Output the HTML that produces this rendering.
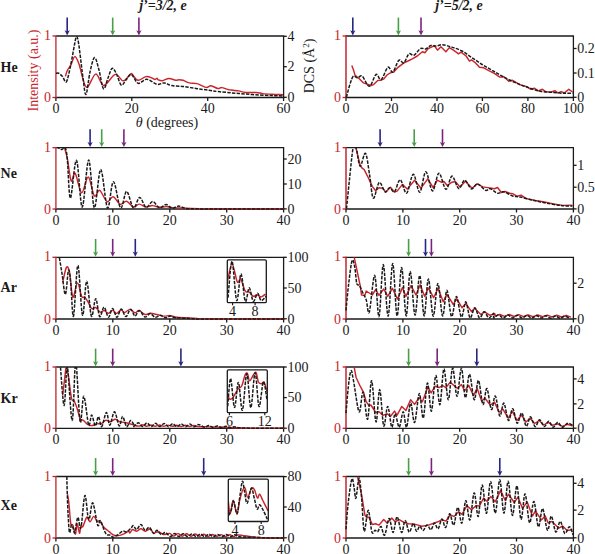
<!DOCTYPE html>
<html><head><meta charset="utf-8"><title>figure</title>
<style>html,body{margin:0;padding:0;background:#fff;width:595px;height:554px;overflow:hidden}svg{display:block;font-family:"Liberation Serif",serif}</style>
</head><body>
<svg width="595" height="554" viewBox="0 0 595 554" font-family='"Liberation Serif", serif'>
<rect width="595" height="554" fill="#fff"/>
<defs>
<clipPath id="cl0"><rect x="54.9" y="36" width="228.7" height="62.5"/></clipPath>
<clipPath id="cr0"><rect x="345" y="36" width="228.4" height="62.5"/></clipPath>
<clipPath id="cl1"><rect x="54.9" y="147.7" width="228.7" height="62.3"/></clipPath>
<clipPath id="cr1"><rect x="345" y="147.7" width="228.4" height="62.3"/></clipPath>
<clipPath id="cl2"><rect x="54.9" y="257.3" width="228.7" height="62.7"/></clipPath>
<clipPath id="cr2"><rect x="345" y="257.3" width="228.4" height="62.7"/></clipPath>
<clipPath id="cl3"><rect x="54.9" y="367" width="228.7" height="62.3"/></clipPath>
<clipPath id="cr3"><rect x="345" y="367" width="228.4" height="62.3"/></clipPath>
<clipPath id="cl4"><rect x="54.9" y="476.5" width="228.7" height="62.5"/></clipPath>
<clipPath id="cr4"><rect x="345" y="476.5" width="228.4" height="62.5"/></clipPath>
</defs>
<text x="139.2" y="9.8" text-anchor="start" fill="#1a1a1a" font-size="14" font-weight="bold" font-style="italic">j’=3/2, e</text>
<text x="435.2" y="9.8" text-anchor="start" fill="#1a1a1a" font-size="14" font-weight="bold" font-style="italic">j’=5/2, e</text>
<text x="0.6" y="72" text-anchor="start" fill="#1a1a1a" font-size="14" font-weight="bold" font-style="normal">He</text>
<text x="0.6" y="177.6" text-anchor="start" fill="#1a1a1a" font-size="14" font-weight="bold" font-style="normal">Ne</text>
<text x="0.6" y="292.2" text-anchor="start" fill="#1a1a1a" font-size="14" font-weight="bold" font-style="normal">Ar</text>
<text x="0.6" y="402.7" text-anchor="start" fill="#1a1a1a" font-size="14" font-weight="bold" font-style="normal">Kr</text>
<text x="0.6" y="509.7" text-anchor="start" fill="#1a1a1a" font-size="14" font-weight="bold" font-style="normal">Xe</text>
<g stroke-width="1.3" fill="none">
<line x1="55.9" y1="36" x2="284.2" y2="36" stroke="#1a1a1a"/>
<line x1="55.9" y1="97.5" x2="284.2" y2="97.5" stroke="#1a1a1a"/>
<line x1="283.6" y1="36" x2="283.6" y2="97.5" stroke="#1a1a1a"/>
<line x1="55.9" y1="35.4" x2="55.9" y2="98.1" stroke="#c63a40" stroke-width="1.45"/>
<line x1="52.5" y1="36" x2="55.9" y2="36" stroke="#c01e24"/>
<line x1="52.5" y1="97.5" x2="55.9" y2="97.5" stroke="#c01e24"/>
<line x1="55.9" y1="97.5" x2="55.9" y2="101" stroke="#1a1a1a"/>
<line x1="131.8" y1="97.5" x2="131.8" y2="101" stroke="#1a1a1a"/>
<line x1="207.7" y1="97.5" x2="207.7" y2="101" stroke="#1a1a1a"/>
<line x1="283.6" y1="97.5" x2="283.6" y2="101" stroke="#1a1a1a"/>
<line x1="283.6" y1="97.3" x2="286.8" y2="97.3" stroke="#1a1a1a"/>
<line x1="283.6" y1="66.7" x2="286.8" y2="66.7" stroke="#1a1a1a"/>
<line x1="283.6" y1="36.3" x2="286.8" y2="36.3" stroke="#1a1a1a"/>
</g>
<text x="50.9" y="40" text-anchor="end" fill="#c8262c" font-size="14" font-weight="normal" font-style="normal">1</text>
<text x="50.9" y="102.1" text-anchor="end" fill="#c8262c" font-size="14" font-weight="normal" font-style="normal">0</text>
<text x="55.9" y="113.3" text-anchor="middle" fill="#1a1a1a" font-size="14" font-weight="normal" font-style="normal">0</text>
<text x="131.8" y="113.3" text-anchor="middle" fill="#1a1a1a" font-size="14" font-weight="normal" font-style="normal">20</text>
<text x="207.7" y="113.3" text-anchor="middle" fill="#1a1a1a" font-size="14" font-weight="normal" font-style="normal">40</text>
<text x="283.6" y="113.3" text-anchor="middle" fill="#1a1a1a" font-size="14" font-weight="normal" font-style="normal">60</text>
<text x="287.4" y="102" text-anchor="start" fill="#1a1a1a" font-size="14" font-weight="normal" font-style="normal">0</text>
<text x="287.4" y="71.4" text-anchor="start" fill="#1a1a1a" font-size="14" font-weight="normal" font-style="normal">2</text>
<text x="287.4" y="41" text-anchor="start" fill="#1a1a1a" font-size="14" font-weight="normal" font-style="normal">4</text>
<g stroke-width="1.3" fill="none">
<line x1="346" y1="36" x2="574" y2="36" stroke="#1a1a1a"/>
<line x1="346" y1="97.5" x2="574" y2="97.5" stroke="#1a1a1a"/>
<line x1="573.4" y1="36" x2="573.4" y2="97.5" stroke="#1a1a1a"/>
<line x1="346" y1="35.4" x2="346" y2="98.1" stroke="#c01e24" stroke-width="1.45"/>
<line x1="342.6" y1="36" x2="346" y2="36" stroke="#c01e24"/>
<line x1="342.6" y1="97.5" x2="346" y2="97.5" stroke="#c01e24"/>
<line x1="346" y1="97.5" x2="346" y2="101" stroke="#1a1a1a"/>
<line x1="391.5" y1="97.5" x2="391.5" y2="101" stroke="#1a1a1a"/>
<line x1="437" y1="97.5" x2="437" y2="101" stroke="#1a1a1a"/>
<line x1="482.4" y1="97.5" x2="482.4" y2="101" stroke="#1a1a1a"/>
<line x1="527.9" y1="97.5" x2="527.9" y2="101" stroke="#1a1a1a"/>
<line x1="573.4" y1="97.5" x2="573.4" y2="101" stroke="#1a1a1a"/>
<line x1="573.4" y1="97.3" x2="576.6" y2="97.3" stroke="#1a1a1a"/>
<line x1="573.4" y1="73" x2="576.6" y2="73" stroke="#1a1a1a"/>
<line x1="573.4" y1="48.5" x2="576.6" y2="48.5" stroke="#1a1a1a"/>
</g>
<text x="341" y="40" text-anchor="end" fill="#c8262c" font-size="14" font-weight="normal" font-style="normal">1</text>
<text x="341" y="102.1" text-anchor="end" fill="#c8262c" font-size="14" font-weight="normal" font-style="normal">0</text>
<text x="346" y="113.3" text-anchor="middle" fill="#1a1a1a" font-size="14" font-weight="normal" font-style="normal">0</text>
<text x="391.5" y="113.3" text-anchor="middle" fill="#1a1a1a" font-size="14" font-weight="normal" font-style="normal">20</text>
<text x="437" y="113.3" text-anchor="middle" fill="#1a1a1a" font-size="14" font-weight="normal" font-style="normal">40</text>
<text x="482.4" y="113.3" text-anchor="middle" fill="#1a1a1a" font-size="14" font-weight="normal" font-style="normal">60</text>
<text x="527.9" y="113.3" text-anchor="middle" fill="#1a1a1a" font-size="14" font-weight="normal" font-style="normal">80</text>
<text x="573.4" y="113.3" text-anchor="middle" fill="#1a1a1a" font-size="14" font-weight="normal" font-style="normal">100</text>
<text x="577.2" y="102" text-anchor="start" fill="#1a1a1a" font-size="14" font-weight="normal" font-style="normal">0</text>
<text x="577.2" y="77.7" text-anchor="start" fill="#1a1a1a" font-size="14" font-weight="normal" font-style="normal">0.1</text>
<text x="577.2" y="53.2" text-anchor="start" fill="#1a1a1a" font-size="14" font-weight="normal" font-style="normal">0.2</text>
<g stroke-width="1.3" fill="none">
<line x1="55.9" y1="147.7" x2="284.2" y2="147.7" stroke="#1a1a1a"/>
<line x1="55.9" y1="209" x2="284.2" y2="209" stroke="#1a1a1a"/>
<line x1="283.6" y1="147.7" x2="283.6" y2="209" stroke="#1a1a1a"/>
<line x1="55.9" y1="147.1" x2="55.9" y2="209.6" stroke="#c63a40" stroke-width="1.45"/>
<line x1="52.5" y1="147.7" x2="55.9" y2="147.7" stroke="#c01e24"/>
<line x1="52.5" y1="209" x2="55.9" y2="209" stroke="#c01e24"/>
<line x1="55.9" y1="209" x2="55.9" y2="212.5" stroke="#1a1a1a"/>
<line x1="112.8" y1="209" x2="112.8" y2="212.5" stroke="#1a1a1a"/>
<line x1="169.8" y1="209" x2="169.8" y2="212.5" stroke="#1a1a1a"/>
<line x1="226.7" y1="209" x2="226.7" y2="212.5" stroke="#1a1a1a"/>
<line x1="283.6" y1="209" x2="283.6" y2="212.5" stroke="#1a1a1a"/>
<line x1="283.6" y1="208.9" x2="286.8" y2="208.9" stroke="#1a1a1a"/>
<line x1="283.6" y1="184" x2="286.8" y2="184" stroke="#1a1a1a"/>
<line x1="283.6" y1="159" x2="286.8" y2="159" stroke="#1a1a1a"/>
</g>
<text x="50.9" y="151.7" text-anchor="end" fill="#c8262c" font-size="14" font-weight="normal" font-style="normal">1</text>
<text x="50.9" y="213.6" text-anchor="end" fill="#c8262c" font-size="14" font-weight="normal" font-style="normal">0</text>
<text x="55.9" y="224.8" text-anchor="middle" fill="#1a1a1a" font-size="14" font-weight="normal" font-style="normal">0</text>
<text x="112.8" y="224.8" text-anchor="middle" fill="#1a1a1a" font-size="14" font-weight="normal" font-style="normal">10</text>
<text x="169.8" y="224.8" text-anchor="middle" fill="#1a1a1a" font-size="14" font-weight="normal" font-style="normal">20</text>
<text x="226.7" y="224.8" text-anchor="middle" fill="#1a1a1a" font-size="14" font-weight="normal" font-style="normal">30</text>
<text x="283.6" y="224.8" text-anchor="middle" fill="#1a1a1a" font-size="14" font-weight="normal" font-style="normal">40</text>
<text x="287.4" y="213.6" text-anchor="start" fill="#1a1a1a" font-size="14" font-weight="normal" font-style="normal">0</text>
<text x="287.4" y="188.7" text-anchor="start" fill="#1a1a1a" font-size="14" font-weight="normal" font-style="normal">10</text>
<text x="287.4" y="163.7" text-anchor="start" fill="#1a1a1a" font-size="14" font-weight="normal" font-style="normal">20</text>
<g stroke-width="1.3" fill="none">
<line x1="346" y1="147.7" x2="574" y2="147.7" stroke="#1a1a1a"/>
<line x1="346" y1="209" x2="574" y2="209" stroke="#1a1a1a"/>
<line x1="573.4" y1="147.7" x2="573.4" y2="209" stroke="#1a1a1a"/>
<line x1="346" y1="147.1" x2="346" y2="209.6" stroke="#c01e24" stroke-width="1.45"/>
<line x1="342.6" y1="147.7" x2="346" y2="147.7" stroke="#c01e24"/>
<line x1="342.6" y1="209" x2="346" y2="209" stroke="#c01e24"/>
<line x1="346" y1="209" x2="346" y2="212.5" stroke="#1a1a1a"/>
<line x1="402.9" y1="209" x2="402.9" y2="212.5" stroke="#1a1a1a"/>
<line x1="459.7" y1="209" x2="459.7" y2="212.5" stroke="#1a1a1a"/>
<line x1="516.5" y1="209" x2="516.5" y2="212.5" stroke="#1a1a1a"/>
<line x1="573.4" y1="209" x2="573.4" y2="212.5" stroke="#1a1a1a"/>
<line x1="573.4" y1="208.9" x2="576.6" y2="208.9" stroke="#1a1a1a"/>
<line x1="573.4" y1="187.2" x2="576.6" y2="187.2" stroke="#1a1a1a"/>
<line x1="573.4" y1="165.3" x2="576.6" y2="165.3" stroke="#1a1a1a"/>
</g>
<text x="341" y="151.7" text-anchor="end" fill="#c8262c" font-size="14" font-weight="normal" font-style="normal">1</text>
<text x="341" y="213.6" text-anchor="end" fill="#c8262c" font-size="14" font-weight="normal" font-style="normal">0</text>
<text x="346" y="224.8" text-anchor="middle" fill="#1a1a1a" font-size="14" font-weight="normal" font-style="normal">0</text>
<text x="402.9" y="224.8" text-anchor="middle" fill="#1a1a1a" font-size="14" font-weight="normal" font-style="normal">10</text>
<text x="459.7" y="224.8" text-anchor="middle" fill="#1a1a1a" font-size="14" font-weight="normal" font-style="normal">20</text>
<text x="516.5" y="224.8" text-anchor="middle" fill="#1a1a1a" font-size="14" font-weight="normal" font-style="normal">30</text>
<text x="573.4" y="224.8" text-anchor="middle" fill="#1a1a1a" font-size="14" font-weight="normal" font-style="normal">40</text>
<text x="577.2" y="213.6" text-anchor="start" fill="#1a1a1a" font-size="14" font-weight="normal" font-style="normal">0</text>
<text x="577.2" y="191.9" text-anchor="start" fill="#1a1a1a" font-size="14" font-weight="normal" font-style="normal">0.5</text>
<text x="577.2" y="170" text-anchor="start" fill="#1a1a1a" font-size="14" font-weight="normal" font-style="normal">1</text>
<g stroke-width="1.3" fill="none">
<line x1="55.9" y1="257.3" x2="284.2" y2="257.3" stroke="#1a1a1a"/>
<line x1="55.9" y1="319" x2="284.2" y2="319" stroke="#1a1a1a"/>
<line x1="283.6" y1="257.3" x2="283.6" y2="319" stroke="#1a1a1a"/>
<line x1="55.9" y1="256.7" x2="55.9" y2="319.6" stroke="#c63a40" stroke-width="1.45"/>
<line x1="52.5" y1="257.3" x2="55.9" y2="257.3" stroke="#c01e24"/>
<line x1="52.5" y1="319" x2="55.9" y2="319" stroke="#c01e24"/>
<line x1="55.9" y1="319" x2="55.9" y2="322.5" stroke="#1a1a1a"/>
<line x1="112.8" y1="319" x2="112.8" y2="322.5" stroke="#1a1a1a"/>
<line x1="169.8" y1="319" x2="169.8" y2="322.5" stroke="#1a1a1a"/>
<line x1="226.7" y1="319" x2="226.7" y2="322.5" stroke="#1a1a1a"/>
<line x1="283.6" y1="319" x2="283.6" y2="322.5" stroke="#1a1a1a"/>
<line x1="283.6" y1="318.8" x2="286.8" y2="318.8" stroke="#1a1a1a"/>
<line x1="283.6" y1="288" x2="286.8" y2="288" stroke="#1a1a1a"/>
<line x1="283.6" y1="257.3" x2="286.8" y2="257.3" stroke="#1a1a1a"/>
</g>
<text x="50.9" y="261.3" text-anchor="end" fill="#c8262c" font-size="14" font-weight="normal" font-style="normal">1</text>
<text x="50.9" y="323.6" text-anchor="end" fill="#c8262c" font-size="14" font-weight="normal" font-style="normal">0</text>
<text x="55.9" y="334.8" text-anchor="middle" fill="#1a1a1a" font-size="14" font-weight="normal" font-style="normal">0</text>
<text x="112.8" y="334.8" text-anchor="middle" fill="#1a1a1a" font-size="14" font-weight="normal" font-style="normal">10</text>
<text x="169.8" y="334.8" text-anchor="middle" fill="#1a1a1a" font-size="14" font-weight="normal" font-style="normal">20</text>
<text x="226.7" y="334.8" text-anchor="middle" fill="#1a1a1a" font-size="14" font-weight="normal" font-style="normal">30</text>
<text x="283.6" y="334.8" text-anchor="middle" fill="#1a1a1a" font-size="14" font-weight="normal" font-style="normal">40</text>
<text x="287.4" y="323.5" text-anchor="start" fill="#1a1a1a" font-size="14" font-weight="normal" font-style="normal">0</text>
<text x="287.4" y="292.7" text-anchor="start" fill="#1a1a1a" font-size="14" font-weight="normal" font-style="normal">50</text>
<text x="287.4" y="262" text-anchor="start" fill="#1a1a1a" font-size="14" font-weight="normal" font-style="normal">100</text>
<g stroke-width="1.3" fill="none">
<line x1="346" y1="257.3" x2="574" y2="257.3" stroke="#1a1a1a"/>
<line x1="346" y1="319" x2="574" y2="319" stroke="#1a1a1a"/>
<line x1="573.4" y1="257.3" x2="573.4" y2="319" stroke="#1a1a1a"/>
<line x1="346" y1="256.7" x2="346" y2="319.6" stroke="#c01e24" stroke-width="1.45"/>
<line x1="342.6" y1="257.3" x2="346" y2="257.3" stroke="#c01e24"/>
<line x1="342.6" y1="319" x2="346" y2="319" stroke="#c01e24"/>
<line x1="346" y1="319" x2="346" y2="322.5" stroke="#1a1a1a"/>
<line x1="402.9" y1="319" x2="402.9" y2="322.5" stroke="#1a1a1a"/>
<line x1="459.7" y1="319" x2="459.7" y2="322.5" stroke="#1a1a1a"/>
<line x1="516.5" y1="319" x2="516.5" y2="322.5" stroke="#1a1a1a"/>
<line x1="573.4" y1="319" x2="573.4" y2="322.5" stroke="#1a1a1a"/>
<line x1="573.4" y1="318.8" x2="576.6" y2="318.8" stroke="#1a1a1a"/>
<line x1="573.4" y1="283.2" x2="576.6" y2="283.2" stroke="#1a1a1a"/>
</g>
<text x="341" y="261.3" text-anchor="end" fill="#c8262c" font-size="14" font-weight="normal" font-style="normal">1</text>
<text x="341" y="323.6" text-anchor="end" fill="#c8262c" font-size="14" font-weight="normal" font-style="normal">0</text>
<text x="346" y="334.8" text-anchor="middle" fill="#1a1a1a" font-size="14" font-weight="normal" font-style="normal">0</text>
<text x="402.9" y="334.8" text-anchor="middle" fill="#1a1a1a" font-size="14" font-weight="normal" font-style="normal">10</text>
<text x="459.7" y="334.8" text-anchor="middle" fill="#1a1a1a" font-size="14" font-weight="normal" font-style="normal">20</text>
<text x="516.5" y="334.8" text-anchor="middle" fill="#1a1a1a" font-size="14" font-weight="normal" font-style="normal">30</text>
<text x="573.4" y="334.8" text-anchor="middle" fill="#1a1a1a" font-size="14" font-weight="normal" font-style="normal">40</text>
<text x="577.2" y="323.5" text-anchor="start" fill="#1a1a1a" font-size="14" font-weight="normal" font-style="normal">0</text>
<text x="577.2" y="287.9" text-anchor="start" fill="#1a1a1a" font-size="14" font-weight="normal" font-style="normal">2</text>
<g stroke-width="1.3" fill="none">
<line x1="55.9" y1="367" x2="284.2" y2="367" stroke="#1a1a1a"/>
<line x1="55.9" y1="428.3" x2="284.2" y2="428.3" stroke="#1a1a1a"/>
<line x1="283.6" y1="367" x2="283.6" y2="428.3" stroke="#1a1a1a"/>
<line x1="55.9" y1="366.4" x2="55.9" y2="428.9" stroke="#c63a40" stroke-width="1.45"/>
<line x1="52.5" y1="367" x2="55.9" y2="367" stroke="#c01e24"/>
<line x1="52.5" y1="428.3" x2="55.9" y2="428.3" stroke="#c01e24"/>
<line x1="55.9" y1="428.3" x2="55.9" y2="431.8" stroke="#1a1a1a"/>
<line x1="112.8" y1="428.3" x2="112.8" y2="431.8" stroke="#1a1a1a"/>
<line x1="169.8" y1="428.3" x2="169.8" y2="431.8" stroke="#1a1a1a"/>
<line x1="226.7" y1="428.3" x2="226.7" y2="431.8" stroke="#1a1a1a"/>
<line x1="283.6" y1="428.3" x2="283.6" y2="431.8" stroke="#1a1a1a"/>
<line x1="283.6" y1="428.2" x2="286.8" y2="428.2" stroke="#1a1a1a"/>
<line x1="283.6" y1="397.6" x2="286.8" y2="397.6" stroke="#1a1a1a"/>
<line x1="283.6" y1="367" x2="286.8" y2="367" stroke="#1a1a1a"/>
</g>
<text x="50.9" y="371" text-anchor="end" fill="#c8262c" font-size="14" font-weight="normal" font-style="normal">1</text>
<text x="50.9" y="432.9" text-anchor="end" fill="#c8262c" font-size="14" font-weight="normal" font-style="normal">0</text>
<text x="55.9" y="444.1" text-anchor="middle" fill="#1a1a1a" font-size="14" font-weight="normal" font-style="normal">0</text>
<text x="112.8" y="444.1" text-anchor="middle" fill="#1a1a1a" font-size="14" font-weight="normal" font-style="normal">10</text>
<text x="169.8" y="444.1" text-anchor="middle" fill="#1a1a1a" font-size="14" font-weight="normal" font-style="normal">20</text>
<text x="226.7" y="444.1" text-anchor="middle" fill="#1a1a1a" font-size="14" font-weight="normal" font-style="normal">30</text>
<text x="283.6" y="444.1" text-anchor="middle" fill="#1a1a1a" font-size="14" font-weight="normal" font-style="normal">40</text>
<text x="287.4" y="432.9" text-anchor="start" fill="#1a1a1a" font-size="14" font-weight="normal" font-style="normal">0</text>
<text x="287.4" y="402.3" text-anchor="start" fill="#1a1a1a" font-size="14" font-weight="normal" font-style="normal">50</text>
<text x="287.4" y="371.7" text-anchor="start" fill="#1a1a1a" font-size="14" font-weight="normal" font-style="normal">100</text>
<g stroke-width="1.3" fill="none">
<line x1="346" y1="367" x2="574" y2="367" stroke="#1a1a1a"/>
<line x1="346" y1="428.3" x2="574" y2="428.3" stroke="#1a1a1a"/>
<line x1="573.4" y1="367" x2="573.4" y2="428.3" stroke="#1a1a1a"/>
<line x1="346" y1="366.4" x2="346" y2="428.9" stroke="#c01e24" stroke-width="1.45"/>
<line x1="342.6" y1="367" x2="346" y2="367" stroke="#c01e24"/>
<line x1="342.6" y1="428.3" x2="346" y2="428.3" stroke="#c01e24"/>
<line x1="346" y1="428.3" x2="346" y2="431.8" stroke="#1a1a1a"/>
<line x1="402.9" y1="428.3" x2="402.9" y2="431.8" stroke="#1a1a1a"/>
<line x1="459.7" y1="428.3" x2="459.7" y2="431.8" stroke="#1a1a1a"/>
<line x1="516.5" y1="428.3" x2="516.5" y2="431.8" stroke="#1a1a1a"/>
<line x1="573.4" y1="428.3" x2="573.4" y2="431.8" stroke="#1a1a1a"/>
<line x1="573.4" y1="428.2" x2="576.6" y2="428.2" stroke="#1a1a1a"/>
<line x1="573.4" y1="403.9" x2="576.6" y2="403.9" stroke="#1a1a1a"/>
<line x1="573.4" y1="378.9" x2="576.6" y2="378.9" stroke="#1a1a1a"/>
</g>
<text x="341" y="371" text-anchor="end" fill="#c8262c" font-size="14" font-weight="normal" font-style="normal">1</text>
<text x="341" y="432.9" text-anchor="end" fill="#c8262c" font-size="14" font-weight="normal" font-style="normal">0</text>
<text x="346" y="444.1" text-anchor="middle" fill="#1a1a1a" font-size="14" font-weight="normal" font-style="normal">0</text>
<text x="402.9" y="444.1" text-anchor="middle" fill="#1a1a1a" font-size="14" font-weight="normal" font-style="normal">10</text>
<text x="459.7" y="444.1" text-anchor="middle" fill="#1a1a1a" font-size="14" font-weight="normal" font-style="normal">20</text>
<text x="516.5" y="444.1" text-anchor="middle" fill="#1a1a1a" font-size="14" font-weight="normal" font-style="normal">30</text>
<text x="573.4" y="444.1" text-anchor="middle" fill="#1a1a1a" font-size="14" font-weight="normal" font-style="normal">40</text>
<text x="577.2" y="432.9" text-anchor="start" fill="#1a1a1a" font-size="14" font-weight="normal" font-style="normal">0</text>
<text x="577.2" y="408.6" text-anchor="start" fill="#1a1a1a" font-size="14" font-weight="normal" font-style="normal">2</text>
<text x="577.2" y="383.6" text-anchor="start" fill="#1a1a1a" font-size="14" font-weight="normal" font-style="normal">4</text>
<g stroke-width="1.3" fill="none">
<line x1="55.9" y1="476.5" x2="284.2" y2="476.5" stroke="#1a1a1a"/>
<line x1="55.9" y1="538" x2="284.2" y2="538" stroke="#1a1a1a"/>
<line x1="283.6" y1="476.5" x2="283.6" y2="538" stroke="#1a1a1a"/>
<line x1="55.9" y1="475.9" x2="55.9" y2="538.6" stroke="#c63a40" stroke-width="1.45"/>
<line x1="52.5" y1="476.5" x2="55.9" y2="476.5" stroke="#c01e24"/>
<line x1="52.5" y1="538" x2="55.9" y2="538" stroke="#c01e24"/>
<line x1="55.9" y1="538" x2="55.9" y2="541.5" stroke="#1a1a1a"/>
<line x1="112.8" y1="538" x2="112.8" y2="541.5" stroke="#1a1a1a"/>
<line x1="169.8" y1="538" x2="169.8" y2="541.5" stroke="#1a1a1a"/>
<line x1="226.7" y1="538" x2="226.7" y2="541.5" stroke="#1a1a1a"/>
<line x1="283.6" y1="538" x2="283.6" y2="541.5" stroke="#1a1a1a"/>
<line x1="283.6" y1="537.8" x2="286.8" y2="537.8" stroke="#1a1a1a"/>
<line x1="283.6" y1="507" x2="286.8" y2="507" stroke="#1a1a1a"/>
<line x1="283.6" y1="476.6" x2="286.8" y2="476.6" stroke="#1a1a1a"/>
</g>
<text x="50.9" y="480.5" text-anchor="end" fill="#c8262c" font-size="14" font-weight="normal" font-style="normal">1</text>
<text x="50.9" y="542.6" text-anchor="end" fill="#c8262c" font-size="14" font-weight="normal" font-style="normal">0</text>
<text x="55.9" y="553.8" text-anchor="middle" fill="#1a1a1a" font-size="14" font-weight="normal" font-style="normal">0</text>
<text x="112.8" y="553.8" text-anchor="middle" fill="#1a1a1a" font-size="14" font-weight="normal" font-style="normal">10</text>
<text x="169.8" y="553.8" text-anchor="middle" fill="#1a1a1a" font-size="14" font-weight="normal" font-style="normal">20</text>
<text x="226.7" y="553.8" text-anchor="middle" fill="#1a1a1a" font-size="14" font-weight="normal" font-style="normal">30</text>
<text x="283.6" y="553.8" text-anchor="middle" fill="#1a1a1a" font-size="14" font-weight="normal" font-style="normal">40</text>
<text x="287.4" y="542.5" text-anchor="start" fill="#1a1a1a" font-size="14" font-weight="normal" font-style="normal">0</text>
<text x="287.4" y="511.7" text-anchor="start" fill="#1a1a1a" font-size="14" font-weight="normal" font-style="normal">40</text>
<text x="287.4" y="481.3" text-anchor="start" fill="#1a1a1a" font-size="14" font-weight="normal" font-style="normal">80</text>
<g stroke-width="1.3" fill="none">
<line x1="346" y1="476.5" x2="574" y2="476.5" stroke="#1a1a1a"/>
<line x1="346" y1="538" x2="574" y2="538" stroke="#1a1a1a"/>
<line x1="573.4" y1="476.5" x2="573.4" y2="538" stroke="#1a1a1a"/>
<line x1="346" y1="475.9" x2="346" y2="538.6" stroke="#c01e24" stroke-width="1.45"/>
<line x1="342.6" y1="476.5" x2="346" y2="476.5" stroke="#c01e24"/>
<line x1="342.6" y1="538" x2="346" y2="538" stroke="#c01e24"/>
<line x1="346" y1="538" x2="346" y2="541.5" stroke="#1a1a1a"/>
<line x1="402.9" y1="538" x2="402.9" y2="541.5" stroke="#1a1a1a"/>
<line x1="459.7" y1="538" x2="459.7" y2="541.5" stroke="#1a1a1a"/>
<line x1="516.5" y1="538" x2="516.5" y2="541.5" stroke="#1a1a1a"/>
<line x1="573.4" y1="538" x2="573.4" y2="541.5" stroke="#1a1a1a"/>
<line x1="573.4" y1="537.8" x2="576.6" y2="537.8" stroke="#1a1a1a"/>
<line x1="573.4" y1="510.1" x2="576.6" y2="510.1" stroke="#1a1a1a"/>
<line x1="573.4" y1="483.3" x2="576.6" y2="483.3" stroke="#1a1a1a"/>
</g>
<text x="341" y="480.5" text-anchor="end" fill="#c8262c" font-size="14" font-weight="normal" font-style="normal">1</text>
<text x="341" y="542.6" text-anchor="end" fill="#c8262c" font-size="14" font-weight="normal" font-style="normal">0</text>
<text x="346" y="553.8" text-anchor="middle" fill="#1a1a1a" font-size="14" font-weight="normal" font-style="normal">0</text>
<text x="402.9" y="553.8" text-anchor="middle" fill="#1a1a1a" font-size="14" font-weight="normal" font-style="normal">10</text>
<text x="459.7" y="553.8" text-anchor="middle" fill="#1a1a1a" font-size="14" font-weight="normal" font-style="normal">20</text>
<text x="516.5" y="553.8" text-anchor="middle" fill="#1a1a1a" font-size="14" font-weight="normal" font-style="normal">30</text>
<text x="573.4" y="553.8" text-anchor="middle" fill="#1a1a1a" font-size="14" font-weight="normal" font-style="normal">40</text>
<text x="577.2" y="542.5" text-anchor="start" fill="#1a1a1a" font-size="14" font-weight="normal" font-style="normal">0</text>
<text x="577.2" y="514.8" text-anchor="start" fill="#1a1a1a" font-size="14" font-weight="normal" font-style="normal">2</text>
<text x="577.2" y="488" text-anchor="start" fill="#1a1a1a" font-size="14" font-weight="normal" font-style="normal">4</text>
<path d="M65.4,76.4 C65.7,75.4 66.5,72.2 67.4,70.3 C68.3,68.4 69.6,67.5 70.8,65.2 C72,62.9 73.4,56.8 74.8,56.6 C76.2,56.4 77.1,58.9 79,64 C80.9,69.1 83.5,85.4 86.3,87.1 C89.1,88.8 92.8,74.4 95.7,74.1 C98.6,73.8 100.5,85.5 103.7,85.5 C107,85.5 112,75.2 115.2,74.4 C118.5,73.6 120.6,80.9 123.2,80.8 C125.8,80.7 129.1,74.9 130.7,73.9 C132.3,72.9 131.5,73.8 132.7,74.9 C133.9,76 135.9,80 138.1,80.3 C140.3,80.6 143.6,76.9 146.1,76.6 C148.6,76.3 151.4,78 152.9,78.5 C154.4,79 154.3,79.5 155,79.5 C155.7,79.5 156.5,78.2 157,78.2 C157.5,78.2 157.3,79.4 158.2,79.8 C159.1,80.2 160.5,80.9 162.3,80.7 C164.1,80.5 166.8,78.6 169,78.5 C171.2,78.4 174,80.1 175.7,80.3 C177.4,80.5 177.8,79.8 179,79.8 C180.2,79.8 181.4,79.8 183.1,80.3 C184.8,80.8 186.8,82.4 189.2,82.9 C191.5,83.5 194.4,82.8 197.2,83.6 C200,84.3 203.7,87 206,87.4 C208.3,87.8 209,85.6 211,85.8 C213,86 216,88.2 217.8,88.5 C219.6,88.8 219.9,87.4 221.8,87.6 C223.7,87.8 226.4,89.2 229.2,89.8 C232,90.3 235.9,90.5 238.6,90.9 C241.3,91.4 242.4,92.2 245.3,92.5 C248.2,92.8 253.2,92.3 256.1,92.5 C259,92.7 260.1,93.3 262.8,93.6 C265.5,93.9 268.8,94.1 272.2,94.3 C275.6,94.5 281.2,94.6 283,94.7" fill="none" stroke="#c8262c" stroke-width="1.45" stroke-linejoin="round" clip-path="url(#cl0)"/>
<path d="M56,73.3 C56.5,73.3 57.6,72.8 58.7,73.3 C59.8,73.8 61.2,75.1 62.5,76.5 C63.8,77.9 65.1,83.5 66.4,81.8 C67.7,80 69.1,72.3 70.5,66 C71.9,59.7 73.6,48.9 74.6,44 C75.6,39.1 75.9,36.7 76.6,36.7 C77.3,36.7 77.6,37.1 78.7,44 C79.8,50.9 81.8,69.6 83,78 C84.2,86.4 84.8,95.3 86,94.3 C87.2,93.3 88.6,78.1 90,72 C91.4,65.9 93.1,57.9 94.6,57.6 C96.1,57.3 97.5,64.8 99,70 C100.5,75.2 102,87.5 103.5,88.8 C105,90.1 106.6,81.4 108,78 C109.4,74.6 110.7,69 112.1,68.3 C113.5,67.6 115,71.2 116.5,74 C118,76.8 119.6,84.1 121.2,85.1 C122.8,86.1 124.3,81.8 126,80 C127.7,78.2 129.3,73.9 131.3,74.4 C133.3,75 135.5,82.5 138.1,83.3 C140.7,84.1 143.7,79.1 146.8,79.3 C149.9,79.5 154,83.7 156.9,84.3 C159.8,84.9 161.8,82.7 164.3,82.9 C166.8,83.1 168.4,85 171.7,85.6 C174.9,86.2 179.6,86.1 183.8,86.6 C188.1,87.1 192.9,88.1 197.2,88.7 C201.4,89.3 205.8,89.8 209.3,90.3 C212.8,90.8 214.6,91.2 218.4,91.6 C222.2,92 227.4,92.5 231.9,92.9 C236.4,93.3 240.8,93.7 245.3,94 C249.8,94.3 254.3,94.7 258.8,95 C263.3,95.3 268.2,95.4 272.2,95.6 C276.2,95.8 281.2,95.9 283,96" fill="none" stroke="#1a1a1a" stroke-width="1.5" stroke-linejoin="round" stroke-dasharray="3.4 1.3" clip-path="url(#cl0)"/>
<path d="M351.8,65.6 L353.5,70 L355.1,75.4 L359.3,78.7 L363.5,82.9 L371.1,85.5 L373.6,84.6 L377.8,80.4 L380.5,80.2 L383.7,79.1 L387,75 L390.4,72.9 L393.8,72 L398,67.3 L403.9,62.8 L408,61 L412.3,58.9 L417.3,56 L422.4,51.8 L424.9,52.7 L428.2,48.5 L431.6,47.1 L434.1,45.5 L436.6,48.8 L437.5,50.2 L440.9,46.8 L445.9,51.8 L449.3,47.6 L453.5,50.2 L458.5,53.9 L461,52.2 L466.1,56 L469.5,61.1 L471.6,59.9 L475.3,62.8 L479.5,67.3 L483.7,67.8 L488.8,70.7 L494.7,73.7 L499.7,77.1 L504,76.8 L508.7,81.2 L512.1,80.2 L520.2,84.9 L526.9,86.6 L530.9,89.3 L534.3,88.2 L538.3,90.9 L542.4,89.3 L545.7,91.6 L551.1,92 L555.1,90.7 L557.8,92.9 L561.2,91.6 L564.5,92.9 L568.8,89.3 L572.6,92" fill="none" stroke="#c8262c" stroke-width="1.45" stroke-linejoin="round" clip-path="url(#cr0)"/>
<path d="M346.4,97.2 C347,95 348.9,87.3 350.1,83.8 C351.3,80.3 352.1,77.2 353.4,76.2 C354.6,75.2 356.1,77.9 357.6,77.9 C359.1,77.9 360.2,74.8 362.2,76.2 C364.2,77.6 367.1,86.6 369.4,86.3 C371.7,86 374.1,75.6 376.1,74.5 C378.1,73.4 379.2,80.8 381.2,79.6 C383.2,78.4 385.9,68.6 387.9,67.3 C389.8,66 391.1,73.2 392.9,72 C394.7,70.8 397,61.8 398.8,60.3 C400.6,58.8 402.2,63.9 403.9,62.8 C405.6,61.7 407.2,55.2 408.9,53.9 C410.6,52.6 411.9,56.1 413.9,55.2 C415.9,54.3 418.7,49.5 420.7,48.5 C422.7,47.5 424,49.5 425.7,49 C427.4,48.5 429.1,46 430.8,45.5 C432.5,45 433.8,46.2 435.8,46.1 C437.8,46 439.9,44.6 442.6,44.8 C445.3,45 448.6,46.1 451.8,47.1 C455,48.1 458.5,49.2 461.9,51 C465.3,52.8 468.6,55.5 472,57.7 C475.4,60 478.8,62.4 482.1,64.5 C485.5,66.6 488.8,68.3 492.1,70.3 C495.5,72.2 498.8,74.4 502.2,76.2 C505.6,78 508.9,79.8 512.3,81.3 C515.7,82.8 519.3,84.3 522.4,85.5 C525.5,86.7 527.8,87.5 530.8,88.5 C533.8,89.5 536.5,90.5 540.3,91.2 C544.1,91.9 549.8,92.2 553.8,92.5 C557.8,92.8 561.4,93.2 564.5,93.3 C567.6,93.4 571.2,93.3 572.6,93.3" fill="none" stroke="#1a1a1a" stroke-width="1.5" stroke-linejoin="round" stroke-dasharray="3.4 1.3" clip-path="url(#cr0)"/>
<path d="M64.5,147.8 C65,149.6 66.3,153.3 67.4,158.8 C68.5,164.3 69.9,178.6 71.2,181 C72.5,183.4 73.5,171.4 75.2,173.3 C76.9,175.2 79.4,192.1 81.6,192.7 C83.8,193.3 86.2,176.5 88.3,177 C90.4,177.5 92.4,193.6 94.3,195.8 C96.2,198 97.6,189.4 99.7,190.4 C101.8,191.4 104.8,200.6 107.1,201.6 C109.3,202.6 111,196.2 113.2,196.7 C115.4,197.1 118,203.6 120.2,204.3 C122.4,205.1 124.4,200.8 126.6,201.2 C128.8,201.6 131.3,206.5 133.4,207 C135.5,207.5 137.1,204.1 139.2,204.1 C141.3,204.1 143.8,206.8 146,207 C148.2,207.2 150.5,205.5 152.7,205.6 C154.9,205.7 157.2,207.1 159.4,207.3 C161.6,207.5 164,206.6 166.1,206.6 C168.2,206.6 169.6,207.4 172,207.6 C174.4,207.8 175.7,207.8 180.4,208 C185.1,208.2 194.2,208.6 200,208.8 C205.8,209 201,209 215,209 C229,209 272.5,209 284,209" fill="none" stroke="#c8262c" stroke-width="1.45" stroke-linejoin="round" clip-path="url(#cl1)"/>
<path d="M56.5,147 C57,147.2 58.5,148.1 59.4,148.5 C60.3,148.9 61,149.6 62,149.5 C63,149.4 64.5,146.3 65.4,148.1 C66.3,149.9 66.6,151.9 67.4,160.2 C68.2,168.5 68.9,198.1 70.4,198.1 C71.9,198.1 74.5,158.9 76.5,160.4 C78.5,161.9 80.2,207.3 82.2,207.2 C84.2,207.1 86.7,159.8 88.7,159.9 C90.7,160 92.3,206.3 94.3,207.9 C96.3,209.5 98.5,169.6 100.7,169.6 C102.9,169.6 105.4,205.9 107.5,207.9 C109.6,209.9 111.2,181.7 113.4,181.7 C115.6,181.7 118.4,206.3 120.6,207.9 C122.8,209.5 124.5,191.4 126.6,191.4 C128.7,191.4 131.2,206.8 133.4,207.8 C135.6,208.8 137.6,197.5 139.7,197.4 C141.8,197.3 143.8,206.6 146,207.3 C148.2,208 150.5,201.5 152.7,201.6 C154.9,201.7 157.2,207.3 159.4,207.8 C161.6,208.3 164,204.4 166.1,204.5 C168.2,204.6 169.9,208 172,208.3 C174.1,208.6 176.4,206.1 178.7,206.1 C180.9,206.1 182.8,207.9 185.5,208.3 C188.2,208.8 190.1,208.7 195,208.8 C199.9,208.9 200.2,209 215,209 C229.8,209 272.5,209 284,209" fill="none" stroke="#1a1a1a" stroke-width="1.5" stroke-linejoin="round" stroke-dasharray="3.4 1.3" clip-path="url(#cl1)"/>
<path d="M355.9,147.4 L358.2,157.5 L360.2,165.5 L362.2,168.2 L364.2,169.6 L367.6,176.3 L372.3,186.4 L375.6,190.8 L379,187.7 L383,188.4 L385.7,192.2 L390.4,187.3 L394.5,192.2 L397.1,191.1 L402.5,184.4 L407.2,189.1 L414.6,180.3 L421,188.2 L427.8,178.8 L433.2,187.6 L437.2,180.2 L441.2,182.2 L443.9,181.5 L447.3,185.5 L452,182.2 L455.3,181.5 L460,186.9 L465.4,181.2 L472.1,188.2 L477.1,183.9 L482.9,186.9 L487.6,187.6 L490,188 L494.5,188.7 L497.6,187.5 L501.3,192.5 L505.1,191.5 L509.7,193.3 L512.7,193.6 L517.2,196.3 L521,195.1 L526.3,198.6 L535.4,200.5 L544.5,202 L553.5,203.9 L562.6,205.4 L572.4,205.1" fill="none" stroke="#c8262c" stroke-width="1.45" stroke-linejoin="round" clip-path="url(#cr1)"/>
<path d="M346.5,208.6 C347,203.9 348.3,190.2 349.4,180.3 C350.4,170.4 351.9,155.2 352.8,149.4 C353.7,143.6 354.1,145.3 354.8,145.5 C355.5,145.7 355.9,147.4 356.8,150.8 C357.7,154.2 358.8,165.8 360.2,166.2 C361.6,166.6 363.9,151.9 365.5,153.4 C367.1,154.9 368.3,167.6 369.6,175 C370.9,182.4 371.7,196.9 373.3,198.1 C374.9,199.3 377.4,183.4 379.3,182.4 C381.2,181.4 383.3,190.9 385,191.8 C386.7,192.7 388.1,187.7 389.7,187.7 C391.3,187.7 392.8,193.1 394.5,191.8 C396.2,190.5 398.2,179.5 400.2,179.7 C402.2,179.9 404.4,194 406.6,193.1 C408.8,192.2 411.1,174.4 413.3,174.3 C415.5,174.2 417.6,192.7 419.7,192.3 C421.8,191.9 423.7,172 425.8,171.8 C427.9,171.6 430.3,190.7 432.5,190.9 C434.7,191.1 436.7,173.5 438.9,173.2 C441.1,172.9 443.7,188.8 445.9,189.3 C448.1,189.8 449.9,176.2 452,176.1 C454.1,176 456.6,187.8 458.7,188.5 C460.8,189.2 462.6,180.1 464.7,180.2 C466.8,180.3 469.4,188.3 471.5,188.9 C473.6,189.5 475.1,183.7 477.5,183.9 C479.9,184.1 483.5,189.5 485.6,190.3 C487.7,191.1 488.3,188.2 490.3,188.7 C492.3,189.2 495.4,192.8 497.6,193.3 C499.8,193.8 501.1,191.4 503.6,191.8 C506.1,192.2 509.9,195.1 512.7,196 C515.5,196.9 516.5,196.3 520.3,197.1 C524.1,197.9 530.4,199.7 535.4,200.8 C540.4,201.9 546,203.1 550.5,203.9 C555,204.7 559,205.3 562.6,205.7 C566.2,206.1 570.8,206 572.4,206.1" fill="none" stroke="#1a1a1a" stroke-width="1.5" stroke-linejoin="round" stroke-dasharray="3.4 1.3" clip-path="url(#cr1)"/>
<path d="M62.7,282.3 C63.3,279.8 65.3,269.2 66.4,267.5 C67.5,265.8 68.4,267.3 69.5,272.2 C70.6,277.1 71.5,295.3 72.8,297.1 C74.1,298.9 76,283 77.5,282.9 C79,282.8 80.4,294 81.6,296.4 C82.8,298.8 83.8,296.3 84.9,297.3 C86,298.3 87.2,300.5 88.3,302.4 C89.4,304.3 90.4,307.6 91.6,308.5 C92.8,309.4 94.2,306.9 95.7,307.5 C97.2,308.1 99,311.6 100.4,312.1 C101.8,312.6 102.7,310.3 104,310.5 C105.3,310.7 107.1,313.2 108.5,313.2 C109.9,313.1 111.2,310.1 112.5,310.2 C113.8,310.2 115,313.6 116.5,313.5 C118,313.4 119.9,310 121.2,309.8 C122.5,309.6 123.1,312.6 124.6,312.5 C126.1,312.4 128.3,309.3 130,309.4 C131.7,309.4 133.5,312.6 135,312.8 C136.5,313 137.5,310.3 139.2,310.6 C140.9,310.9 143.3,314.1 145.1,314.5 C146.9,314.9 148.2,313.3 150.2,313.3 C152.2,313.3 154.7,314 156.9,314.5 C159.1,315 161.4,315.9 163.6,316.1 C165.8,316.3 168.1,315.4 170.3,315.6 C172.6,315.8 173,316.9 177.1,317.3 C181.2,317.8 189.5,318 195,318.3 C200.5,318.6 195.2,318.9 210,319 C224.8,319.1 271.7,319 284,319" fill="none" stroke="#c8262c" stroke-width="1.45" stroke-linejoin="round" clip-path="url(#cl2)"/>
<path d="M59.4,257.8 C59.9,260.5 61.1,268.1 62.1,274.2 C63.1,280.3 64.3,295.1 65.4,294.4 C66.5,293.7 67.6,272 68.5,270.2 C69.4,268.4 70,275.9 70.8,283.6 C71.6,291.3 72.3,319.2 73.5,316.2 C74.7,313.2 76.4,265.7 77.9,265.5 C79.4,265.3 81,312.6 82.5,315.2 C84,317.8 85.2,281 86.7,281.2 C88.2,281.4 89.9,313.3 91.4,316.2 C92.9,319.1 94.3,298.6 95.7,298.7 C97.1,298.8 98.3,315.2 99.7,316.6 C101.1,318 102.5,307 104,307.1 C105.5,307.2 107.1,317 108.5,317.2 C109.9,317.4 111.1,308.5 112.5,308.5 C113.9,308.5 115.5,317.1 116.9,317.2 C118.4,317.3 119.7,309 121.2,308.9 C122.7,308.8 124.3,316.6 125.9,316.6 C127.5,316.7 129.1,309.3 130.6,309.2 C132.1,309.1 133.6,315.9 135,316.1 C136.4,316.3 137.5,310.5 139.2,310.6 C140.9,310.8 143.3,316.5 145.1,317 C146.9,317.5 148.5,313.6 150.2,313.6 C151.9,313.7 153.5,317 155.2,317.3 C156.9,317.6 158.6,315.2 160.3,315.3 C162,315.4 163.6,317.7 165.3,317.8 C167,317.9 168.7,316.1 170.3,316.1 C171.9,316.1 171.7,317.2 175,317.6 C178.3,318 185,318.3 190,318.5 C195,318.7 189.3,318.9 205,319 C220.7,319.1 270.8,319 284,319" fill="none" stroke="#1a1a1a" stroke-width="1.5" stroke-linejoin="round" stroke-dasharray="3.4 1.3" clip-path="url(#cl2)"/>
<path d="M354.1,256.7 L360.2,285.6 L361.5,295 L364.9,295.4 L366.2,291 L372.3,295 L375.6,289.7 L379,295.4 L383.7,289 L387.7,296.4 L392.4,288.3 L397.5,299.1 L402.5,287.6 L405.9,296.4 L411,285.6 L416,295 L420.1,284.7 L424.7,296.4 L428.4,287.9 L433.6,297.7 L438.1,288.3 L443.2,301.8 L447,294.4 L453.3,304.5 L456.7,298.7 L462.1,307.8 L465.8,303.5 L471.5,311.6 L474.8,308.5 L480.9,314.5 L484.6,311.8 L489.6,315.2 L495,313.9 L495,316.3 L499.8,314.4 L504.5,316.4 L509.2,314.5 L514,316.5 L518.8,314.7 L523.5,316.6 L528.2,314.8 L533,316.7 L537.8,315 L542.5,316.8 L547.2,315.1 L552,316.9 L556.8,315.3 L561.5,317 L566.2,315.4 L571,317.1" fill="none" stroke="#c8262c" stroke-width="1.45" stroke-linejoin="round" clip-path="url(#cr2)"/>
<path d="M346,310.5 C346.4,306 347.7,291.9 348.7,283.6 C349.7,275.3 351.1,263.2 352.1,260.5 C353.1,257.8 354,263.6 354.8,267.5 C355.6,271.4 356,280.6 356.8,283.6 C357.6,286.6 358.5,284 359.5,285.6 C360.5,287.2 361.8,290.6 362.9,293 C364,295.4 365.1,296.5 366.2,299.7 C367.3,302.9 367.9,316.2 369.3,312.1 C370.7,308 373.1,274.6 374.7,275.3 C376.3,276.1 377.6,318.4 379,316.6 C380.4,314.8 381.8,264.6 383.3,264.5 C384.8,264.4 386.5,316.4 388.1,316.2 C389.7,316 391.2,263.4 392.7,263.4 C394.2,263.3 395.6,315.2 397.1,315.9 C398.6,316.6 400.1,267.5 401.6,267.5 C403.1,267.5 404.8,315.2 406.2,315.9 C407.6,316.6 408.7,271.6 410.2,271.5 C411.7,271.4 413.4,314.3 415,315 C416.6,315.7 418.2,275.4 419.7,275.5 C421.2,275.6 422.7,315.3 424.1,315.9 C425.6,316.5 426.9,278.8 428.4,278.9 C429.9,278.9 431.6,315.4 433.2,316.2 C434.8,317 436.3,283.7 437.9,283.6 C439.5,283.6 441.1,314.8 442.6,315.9 C444.1,317 445.4,290.2 446.9,290.3 C448.4,290.4 450,315.6 451.6,316.6 C453.2,317.6 454.8,296.3 456.4,296.4 C458,296.5 459.8,316.1 461.4,317 C463,317.9 464.4,301.7 465.8,301.8 C467.2,301.9 468.6,316.9 470.1,317.9 C471.6,318.9 473.2,307.8 474.8,307.8 C476.4,307.8 477.9,317.2 479.5,317.9 C481.1,318.6 482.6,311.8 484.2,311.8 C485.8,311.8 487.3,317.7 488.9,317.9 C490.5,318.1 492.9,313.2 493.7,313.2 C494.5,313.2 492.9,317.6 493.7,317.9 C494.5,318.2 496.9,314.8 498.4,314.8 C500,314.8 501.6,317.9 503.2,317.9 C504.8,318 506.4,315 507.9,315 C509.5,315 511.1,318 512.7,318 C514.3,318 515.9,315.2 517.5,315.2 C519,315.2 520.6,318 522.2,318 C523.8,318.1 525.4,315.4 527,315.4 C528.5,315.4 530.1,318.1 531.7,318.1 C533.3,318.1 534.9,315.6 536.5,315.6 C538,315.6 539.6,318.1 541.2,318.1 C542.8,318.2 544.4,315.7 546,315.8 C547.5,315.8 549.1,318.2 550.7,318.2 C552.3,318.2 553.9,315.9 555.5,315.9 C557,316 558.6,318.2 560.2,318.2 C561.8,318.3 563.4,316.1 565,316.1 C566.5,316.1 568.9,317.9 569.7,318.3" fill="none" stroke="#1a1a1a" stroke-width="1.5" stroke-linejoin="round" stroke-dasharray="3.4 1.3" clip-path="url(#cr2)"/>
<path d="M62.7,395 C63.1,392.1 64.2,382.1 64.8,377.5 C65.4,372.9 65.7,367.2 66.4,367.4 C67.1,367.6 68,373.6 68.8,378.8 C69.6,384 70.6,394.6 71.5,398.3 C72.4,402 73.3,399.4 74.2,401 C75.1,402.6 75.9,404.8 76.9,407.7 C77.9,410.6 79.1,416.4 80.2,418.5 C81.3,420.6 82.4,419.5 83.6,420.5 C84.8,421.5 86.3,423.6 87.6,424.5 C88.9,425.4 90,425.7 91.6,425.6 C93.2,425.5 95.3,424.2 97,423.9 C98.7,423.5 100.2,424.1 101.7,423.5 C103.2,422.9 104.3,420.5 105.8,420.2 C107.3,419.9 108.9,422 110.5,421.8 C112.1,421.6 113.6,419.2 115.2,419.2 C116.8,419.2 118.2,421.2 119.9,421.8 C121.6,422.4 122.3,421.8 125.3,422.5 C128.3,423.2 135.2,425.7 138,426.1 C140.8,426.5 140.9,424.7 142.3,424.8 C143.7,424.8 145.2,426.1 146.6,426.2 C148,426.2 149.5,424.9 150.9,424.9 C152.3,424.9 153.8,426.2 155.2,426.2 C156.6,426.2 158.1,425 159.5,425 C160.9,425 162.4,426.2 163.8,426.3 C165.2,426.3 166.7,425.1 168.1,425.1 C169.5,425.1 171,426.3 172.4,426.3 C173.8,426.3 175.3,425.2 176.7,425.2 C178.1,425.2 179.6,426.4 181,426.4 C182.4,426.4 183.9,425.3 185.3,425.3 C186.7,425.3 188.2,426.4 189.6,426.4 C191,426.5 192.5,425.4 193.9,425.4 C195.3,425.4 193.8,426.2 198.2,426.5 C202.5,426.8 213,426.9 220,427.2 C227,427.5 234.2,427.8 240,428 C245.8,428.2 247.7,428.2 255,428.3 C262.3,428.4 279.2,428.3 284,428.3" fill="none" stroke="#c8262c" stroke-width="1.45" stroke-linejoin="round" clip-path="url(#cl3)"/>
<path d="M60.5,367.4 C61.1,373.8 63,405.8 64.1,405.7 C65.1,405.6 66.1,372.5 66.8,367 C67.5,361.5 67.2,363.9 68.1,372.8 C69,381.7 71,421.3 72.2,420.5 C73.4,419.7 74.3,376.9 75,368 C75.7,359.1 75.6,358.2 76.5,367.2 C77.4,376.2 79,417.2 80.2,422.1 C81.4,427 82.4,395.8 83.8,396.3 C85.2,396.8 87.4,422.1 88.7,425.2 C90,428.3 90.5,415 91.6,415.1 C92.7,415.2 94.3,425.6 95.4,425.9 C96.5,426.2 97.4,416.6 98.4,416.7 C99.5,416.8 100.4,427.3 101.7,426.6 C103,425.9 105.1,412.6 106.4,412.4 C107.8,412.2 108.5,425.3 109.8,425.2 C111.1,425.1 112.9,411.7 114.5,411.8 C116.1,411.9 117.9,425.1 119.2,425.9 C120.5,426.7 121.4,416.4 122.6,416.5 C123.8,416.6 125.3,425.9 126.6,426.6 C127.9,427.3 129.4,420.8 130.6,420.5 C131.8,420.2 133.4,424 134,425 C134.6,426 133.3,426.9 134,426.5 C134.7,426.1 136.9,422.8 138.3,422.8 C139.7,422.8 141.2,426.5 142.6,426.5 C144,426.6 145.5,423 146.9,423 C148.3,423 149.8,426.5 151.2,426.6 C152.6,426.6 154.1,423.2 155.5,423.3 C156.9,423.3 158.4,426.6 159.8,426.6 C161.2,426.7 162.7,423.5 164.1,423.5 C165.5,423.5 167,426.6 168.4,426.7 C169.8,426.7 171.3,423.7 172.7,423.7 C174.1,423.7 175.6,426.7 177,426.7 C178.4,426.7 179.9,423.9 181.3,423.9 C182.7,423.9 184.2,426.7 185.6,426.7 C187,426.8 188.5,424.1 189.9,424.1 C191.3,424.1 192.8,426.7 194.2,426.8 C195.6,426.8 196.8,424.3 198.5,424.4 C200.2,424.4 202.6,427 204.3,427.2 C206,427.4 207.2,425.6 208.6,425.6 C210,425.6 211.5,427.3 212.9,427.3 C214.3,427.4 215.8,425.9 217.2,425.9 C218.6,426 220.1,427.4 221.5,427.4 C222.9,427.5 224.4,426.3 225.8,426.3 C227.2,426.3 228.7,427.5 230.1,427.6 C231.5,427.6 233,426.6 234.4,426.7 C235.8,426.7 235.3,427.4 238.7,427.7 C242.1,428 247.4,428.2 255,428.3 C262.6,428.4 279.2,428.3 284,428.3" fill="none" stroke="#1a1a1a" stroke-width="1.5" stroke-linejoin="round" stroke-dasharray="3.4 1.3" clip-path="url(#cl3)"/>
<path d="M354.1,366.7 L356.1,377.5 L360.2,386.2 L363.5,392.3 L366.2,401.7 L368.9,405.7 L370.9,405 L375.6,412.4 L379,411.8 L383,415.4 L387.1,413.8 L390.4,416.5 L394.5,411.1 L397.1,415.1 L401.8,406.4 L405.9,410.4 L410.6,399.7 L414.6,404.4 L419,397.6 L422.4,401.7 L427.8,386.9 L431.1,392.9 L435.2,386.2 L439.2,387.6 L442.6,385.5 L445.9,387.6 L450.2,382.2 L453.3,384.9 L457.4,388.2 L461.4,384.5 L464.7,390.9 L468.8,385.5 L473.5,395.6 L477.1,388.2 L481.6,401 L484.9,398.3 L490.3,405 L494.5,402.1 L499.1,412.2 L502.9,409.2 L508.2,418.2 L512.4,411.4 L516.9,420.5 L521.5,415.2 L526,422 L530.1,418.2 L534.6,423.5 L539.2,420.5 L543.7,425 L548.2,422.3 L552.8,425.3 L557.3,423.8 L562.6,426.3 L567.1,424.3 L572.4,425.8" fill="none" stroke="#c8262c" stroke-width="1.45" stroke-linejoin="round" clip-path="url(#cr3)"/>
<path d="M346,413.1 C346.4,408.7 347.5,393.9 348.3,386.9 C349.1,379.8 350.1,371.9 351,370.8 C351.9,369.7 352,373.4 353.4,380.2 C354.8,387 357.5,409.8 359.1,411.8 C360.7,413.8 361.7,390.8 363.1,392 C364.5,393.2 366.2,421.1 367.6,419.2 C369,417.3 370.2,380.4 371.6,380.8 C373,381.2 374.6,420.3 376,421.8 C377.4,423.3 378.4,388.9 379.7,389.6 C381,390.3 382.4,423.1 383.7,425.9 C385,428.7 386.3,406.2 387.7,406.4 C389.1,406.6 390.6,426 391.8,427.2 C393,428.4 393.9,413.8 395.1,413.8 C396.3,413.8 397.9,427.5 399.2,427.2 C400.5,426.9 402,411.8 403.2,411.8 C404.4,411.8 405.4,428.7 406.6,427.2 C407.8,425.7 409.3,403.8 410.6,403 C411.9,402.2 413.2,424.1 414.6,422.5 C416.1,420.9 417.9,394.3 419.3,393.6 C420.8,392.9 422,419.9 423.3,418.1 C424.6,416.4 426,384.3 427.4,383.1 C428.8,381.9 430,412.4 431.4,411.1 C432.8,409.8 434.4,376.6 435.8,375.5 C437.2,374.4 438.5,405.7 439.9,404.6 C441.2,403.5 442.5,369.9 443.9,369.1 C445.3,368.3 446.9,399.9 448.3,399.7 C449.8,399.5 451.2,368.7 452.6,368.1 C454.1,367.5 455.5,396.3 457,396.3 C458.5,396.3 460,368.1 461.4,368.3 C462.8,368.5 464,396.6 465.4,397.6 C466.8,398.6 468,373.8 469.5,374.1 C471,374.5 472.7,398.6 474.2,399.7 C475.7,400.8 477.1,379.6 478.5,380.4 C479.9,381.2 481.5,403 482.9,404.4 C484.3,405.8 485.5,387.6 486.9,388.5 C488.3,389.4 490,408.2 491.4,409.5 C492.8,410.8 493.9,394.9 495.3,396 C496.7,397.1 498.4,414.8 499.8,416 C501.2,417.2 502.4,402.4 503.9,403.1 C505.3,403.9 507,419.6 508.5,420.5 C510,421.4 511.3,408.2 512.7,408.7 C514.2,409.1 515.7,422.5 517.2,423.2 C518.7,423.9 520.3,412.4 521.8,412.9 C523.3,413.4 524.8,425.7 526.3,426.3 C527.8,426.9 529,416.6 530.5,416.7 C532,416.8 533.6,426.1 535.1,426.6 C536.6,427.1 538.1,419.7 539.6,419.7 C541.1,419.7 542.7,426.3 544.2,426.6 C545.7,426.9 547.2,421.2 548.7,421.3 C550.2,421.4 551.7,427.1 553.2,427.3 C554.7,427.5 556.3,422.3 557.8,422.3 C559.3,422.3 560.6,427.2 562.3,427.3 C564,427.4 566.1,423.4 567.9,423.2 C569.7,422.9 572.3,425.4 573.2,425.8" fill="none" stroke="#1a1a1a" stroke-width="1.5" stroke-linejoin="round" stroke-dasharray="3.4 1.3" clip-path="url(#cr3)"/>
<path d="M67.4,494.2 C67.6,495.6 68.2,497.4 68.8,502.3 C69.4,507.2 70.1,520 70.8,523.8 C71.5,527.6 72,523.4 72.8,525.1 C73.6,526.9 74.8,534.5 75.5,534.3 C76.2,534.1 76.4,524 77.1,523.8 C77.8,523.6 78.9,532.9 79.5,533.2 C80.1,533.5 80.3,526.9 80.9,525.8 C81.5,524.7 81.9,528 82.9,526.5 C83.9,525 85.7,517.9 86.9,517.1 C88.1,516.3 88.9,521.9 90,521.8 C91.1,521.7 92.5,516.5 93.7,516.4 C94.9,516.3 96,520.3 97,521.1 C98,521.9 98.5,520 99.7,521.1 C100.9,522.2 102.8,526 104.4,527.8 C106,529.5 107.5,530.4 109.1,531.6 C110.7,532.8 112.2,534.5 113.8,535.2 C115.4,535.9 116.8,535.8 118.5,535.6 C120.2,535.4 122.2,534.6 123.9,533.9 C125.6,533.2 127.6,531.4 128.6,531.2 C129.6,531 129.3,533.2 130,532.9 C130.7,532.6 131.4,529.8 132.5,529.5 C133.6,529.2 135.3,531.3 136.7,531.2 C138.1,531.1 139.5,528.7 140.9,528.7 C142.3,528.7 143.6,531.2 145.1,531.2 C146.6,531.2 148.8,528.7 150.2,529 C151.6,529.3 152.1,532.4 153.5,532.9 C154.9,533.4 156.9,531.4 158.6,531.7 C160.3,532 161.8,534.2 163.6,534.5 C165.4,534.8 167.8,533.1 169.5,533.4 C171.2,533.7 172.3,536.1 173.7,536.1 C175.1,536.1 176.6,533.6 178,533.6 C179.4,533.6 180.9,536.1 182.3,536.2 C183.7,536.2 185.2,533.8 186.6,533.8 C188,533.8 189.5,536.2 190.9,536.2 C192.3,536.3 193.8,534 195.2,534 C196.6,534 198.1,536.3 199.5,536.3 C200.9,536.3 202.4,534.2 203.8,534.2 C205.2,534.2 206.7,536.3 208.1,536.4 C209.5,536.4 211,534.4 212.4,534.4 C213.8,534.4 215.3,536.4 216.7,536.4 C218.1,536.5 219.6,534.6 221,534.6 C222.4,534.6 223.9,536.5 225.3,536.5 C226.7,536.5 228.2,534.8 229.6,534.8 C231,534.8 232.5,536.5 233.9,536.6 C235.3,536.6 234.7,534.9 238.2,535 C241.7,535.1 249.7,536.7 255,537.2 C260.3,537.7 265.2,537.9 270,538 C274.8,538.1 281.7,538 284,538" fill="none" stroke="#c8262c" stroke-width="1.45" stroke-linejoin="round" clip-path="url(#cl4)"/>
<path d="M66.8,476.7 C66.9,479.2 67,485.2 67.2,491.5 C67.4,497.8 67.7,507.6 68.1,514.4 C68.5,521.2 68.9,530.7 69.5,532.5 C70.1,534.3 70.8,525.6 71.5,525.1 C72.2,524.6 73,528 73.5,529.2 C74,530.4 74.1,534.5 74.8,532.5 C75.5,530.5 76.9,518.1 77.9,517.3 C78.9,516.5 79.7,531.4 80.9,527.8 C82.1,524.2 83.6,496.8 84.9,495.5 C86.2,494.2 87.4,518.5 88.7,519.7 C90,520.9 91.2,502 92.7,502.9 C94.2,503.8 96.4,522.1 97.7,525.1 C99,528.1 99.1,519.4 100.4,520.8 C101.8,522.2 104.1,531.1 105.8,533.5 C107.5,535.9 109.3,534.6 110.5,535.2 C111.7,535.8 112.1,537.2 113.2,537.2 C114.3,537.2 115.6,536.2 117.2,535.2 C118.8,534.2 121,531.8 122.6,531.2 C124.2,530.6 125.1,532.4 126.6,531.8 C128.1,531.2 130.2,528.8 131.3,527.8 C132.4,526.8 132.5,525.3 133.4,525.6 C134.3,525.9 135.4,529.7 136.7,529.5 C137.9,529.3 139.5,524.4 140.9,524.5 C142.3,524.6 143.7,529.8 145.1,530.3 C146.5,530.8 147.9,526.8 149.3,527.3 C150.7,527.8 152.2,532.9 153.5,533.4 C154.8,533.9 155.6,530.1 156.9,530.3 C158.2,530.5 159.7,534.1 161.1,534.5 C162.5,534.9 163.8,532.1 165.3,532.4 C166.8,532.7 168.8,536.3 170.3,536.5 C171.9,536.7 173.2,533.6 174.6,533.6 C176,533.6 177.5,536.5 178.9,536.5 C180.3,536.6 181.8,533.7 183.2,533.7 C184.6,533.7 186.1,536.5 187.5,536.6 C188.9,536.6 190.4,533.9 191.8,533.9 C193.2,533.9 194.7,536.6 196.1,536.6 C197.5,536.6 199,534.1 200.4,534.1 C201.8,534.1 203.3,536.6 204.7,536.6 C206.1,536.7 207.6,534.2 209,534.2 C210.4,534.2 211.9,536.7 213.3,536.7 C214.7,536.7 216.2,534.4 217.6,534.4 C219,534.4 220.5,536.7 221.9,536.7 C223.3,536.7 224.8,534.5 226.2,534.5 C227.6,534.5 229.1,536.7 230.5,536.8 C231.9,536.8 233.4,534.7 234.8,534.7 C236.2,534.7 235.7,536.4 239.1,536.8 C242.5,537.2 249.8,537.1 255,537.3 C260.1,537.5 265.2,537.9 270,538 C274.8,538.1 281.7,538 284,538" fill="none" stroke="#1a1a1a" stroke-width="1.5" stroke-linejoin="round" stroke-dasharray="3.4 1.3" clip-path="url(#cl4)"/>
<path d="M357.5,476.7 L361.5,494.2 L364.9,515 L366.9,517.7 L368.9,517.1 L372.3,524.5 L375.6,523.8 L379,525.1 L383.7,519.5 L387.1,523.1 L391.8,518.1 L395.1,521.8 L399.2,519.7 L403.9,522.4 L408.6,523.8 L413.3,524 L417.3,524.9 L421.7,526.2 L428.4,525.1 L433.8,523.1 L437.9,521.8 L441.9,519.7 L445.9,521.1 L450,515 L454,516.4 L458.7,511.7 L462.1,514.4 L466.8,505.6 L471.5,509.7 L476.2,505.6 L479.5,506 L483.6,498 L486.9,501.2 L491,496.6 L495.3,501.8 L500.6,490.4 L505.1,500.3 L508.5,494.2 L514.2,502.5 L518,497.2 L522.5,508.6 L527.1,501.8 L532.4,516.1 L535.4,510.8 L541.4,519.9 L545.2,516.1 L548.2,522.9 L552,521.4 L558.8,528.2 L562.6,526 L567.1,530.5 L572.4,529.8" fill="none" stroke="#c8262c" stroke-width="1.45" stroke-linejoin="round" clip-path="url(#cr4)"/>
<path d="M346,529.2 C346.4,524.9 347.1,512 348.1,503.6 C349.1,495.2 350.8,481.8 351.8,479.1 C352.8,476.4 353.4,484.3 354.1,487.5 C354.8,490.7 355.1,499.8 355.9,498.2 C356.7,496.6 358.2,478.3 359.1,478.1 C360,477.9 360.6,488 361.5,496.9 C362.4,505.8 363.1,529 364.2,531.2 C365.3,533.4 366.9,510.2 368.2,510.3 C369.5,510.4 370.8,528.8 371.9,532.1 C373,535.4 374.1,530.2 375,530.2 C375.9,530.2 376.6,532.4 377.6,531.8 C378.6,531.2 379.8,525.9 381,526.5 C382.2,527.1 383.2,536.6 384.6,535.2 C386,533.9 387.7,518.9 389.1,518.4 C390.5,517.9 391.8,532.8 393.1,532.5 C394.4,532.2 395.7,516.8 397.1,516.8 C398.5,516.8 400.2,531.9 401.6,532.5 C403,533.1 403.9,520.5 405.2,520.4 C406.5,520.3 407.8,531.6 409.2,532.1 C410.6,532.6 412.1,523.6 413.3,523.5 C414.5,523.4 415.5,530.8 416.6,531.2 C417.7,531.7 418.6,526.3 419.7,526.2 C420.8,526.1 421.9,530.7 423.1,530.5 C424.3,530.3 425.8,525.2 427.1,525.1 C428.4,525 429.7,530.1 430.9,529.8 C432.1,529.5 433.3,523.2 434.5,523.1 C435.7,523 436.9,529.6 438.1,528.9 C439.3,528.2 440.6,519.3 441.9,519.1 C443.2,518.9 444.4,528.4 445.7,527.5 C447,526.6 448.4,514.1 449.7,513.7 C451,513.3 452.3,526.2 453.7,525.1 C455.1,524 456.4,507.7 457.8,507.4 C459.2,507.1 460.5,524.2 461.8,523.1 C463.1,522 464.5,501.2 465.8,500.7 C467.1,500.2 468.5,521.3 469.9,520 C471.3,518.7 472.8,493.5 474.2,492.9 C475.6,492.3 476.9,517.7 478.2,516.4 C479.5,515.1 480.8,485.6 482.2,485.1 C483.6,484.6 485.1,513.9 486.5,513.3 C487.9,512.7 489.1,481.4 490.6,481.4 C492.1,481.4 493.8,513.4 495.3,513.1 C496.8,512.8 498.4,479.8 499.8,479.8 C501.2,479.8 502.5,512.9 503.9,513.1 C505.3,513.4 506.8,480.9 508.2,481.3 C509.6,481.7 510.9,514.6 512.4,515.4 C513.9,516.2 515.5,485.3 516.9,485.9 C518.3,486.5 519.6,517.9 521,519.2 C522.4,520.5 523.7,493.3 525.1,493.9 C526.5,494.5 528.1,521.6 529.6,522.9 C531.1,524.2 532.4,500.9 533.9,501.5 C535.4,502.1 536.9,525.5 538.4,526.7 C539.9,527.9 541.1,508 542.6,508.6 C544.1,509.2 546,529 547.5,530.2 C549,531.5 549.9,515.8 551.3,516.1 C552.7,516.4 554.3,531.1 555.8,532 C557.3,532.9 558.8,521.1 560.3,521.4 C561.8,521.6 563.4,532.6 564.9,533.5 C566.4,534.4 568,526.5 569.4,526.7 C570.8,527 572.6,533.6 573.2,535" fill="none" stroke="#1a1a1a" stroke-width="1.5" stroke-linejoin="round" stroke-dasharray="3.4 1.3" clip-path="url(#cr4)"/>
<rect x="227.3" y="259.8" width="39" height="42.9" fill="#fff"/>
<defs><clipPath id="ia"><rect x="227.3" y="259.8" width="39" height="42.9"/></clipPath></defs>
<path d="M227.7,280.3 C228.4,277.5 230.5,263.7 232,263.7 C233.5,263.7 235.6,277.2 236.7,280.3 C237.8,283.4 237.8,282.3 238.5,282.1 C239.2,281.9 239.6,277.4 240.7,278.9 C241.8,280.4 243.9,289 245.3,291.2 C246.7,293.4 247.6,291.1 248.9,291.9 C250.2,292.7 252,295.7 253.3,296.2 C254.6,296.7 255.6,294.7 256.9,294.8 C258.2,294.9 259.8,297 261.2,296.9 C262.6,296.8 264.8,294.5 265.5,294" fill="none" stroke="#c8262c" stroke-width="1.45" stroke-linejoin="round" clip-path="url(#ia)"/>
<path d="M228,297.7 C228.7,291.6 230.6,260.8 232,261.3 C233.4,261.8 235.2,298.4 236.7,300.5 C238.2,302.6 239.6,273.7 241,273.8 C242.4,273.9 243.9,299 245.3,301.3 C246.7,303.6 247.9,287.8 249.2,287.8 C250.5,287.8 251.9,300.4 253.3,301.3 C254.7,302.2 256.3,293.4 257.6,293.3 C258.9,293.2 259.7,299.8 260.9,300.5 C262.1,301.2 263.9,298.4 264.8,297.7 C265.7,296.9 265.8,296.3 266,296" fill="none" stroke="#1a1a1a" stroke-width="1.5" stroke-linejoin="round" stroke-dasharray="3.4 1.3" clip-path="url(#ia)"/>
<rect x="227.3" y="259.8" width="39" height="42.9" rx="1.2" fill="none" stroke="#1a1a1a" stroke-width="1.3"/>
<line x1="232.6" y1="302.7" x2="232.6" y2="305.2" stroke="#1a1a1a" stroke-width="1.2"/>
<line x1="255.1" y1="302.7" x2="255.1" y2="305.2" stroke="#1a1a1a" stroke-width="1.2"/>
<text x="232.6" y="315.9" text-anchor="middle" fill="#1a1a1a" font-size="14" font-weight="normal" font-style="normal">4</text>
<text x="255.1" y="315.9" text-anchor="middle" fill="#1a1a1a" font-size="14" font-weight="normal" font-style="normal">8</text>
<rect x="227.3" y="369.8" width="40" height="42.9" fill="#fff"/>
<defs><clipPath id="ik"><rect x="227.3" y="369.8" width="40" height="42.9"/></clipPath></defs>
<path d="M227.7,393.2 C228,394.2 228.5,398.3 229.4,399 C230.3,399.7 231.6,399.2 233,397.5 C234.4,395.8 236.7,390.8 238.1,388.9 C239.5,387 240.5,388.4 241.7,386 C242.9,383.6 244.3,376.4 245.3,374.4 C246.3,372.3 246.8,372.6 247.5,373.7 C248.2,374.8 248.7,380.8 249.7,380.9 C250.7,381 252.6,375.8 253.7,374.4 C254.8,373 255.4,371.5 256.2,372.7 C257,373.9 257.5,379.8 258.3,381.7 C259.1,383.6 260.2,383.7 261.2,383.8 C262.2,383.9 263.1,381.1 264.1,382.4 C265.1,383.7 266.5,390 267,391.5" fill="none" stroke="#c8262c" stroke-width="1.45" stroke-linejoin="round" clip-path="url(#ik)"/>
<path d="M227.7,406.2 C228.2,401.6 229.5,378.3 230.6,378.5 C231.7,378.7 233.2,406.8 234.5,407.4 C235.8,408 237.1,381.9 238.4,382.4 C239.7,382.9 241,411.8 242.4,410.3 C243.8,408.9 245.4,374.1 246.8,373.7 C248.2,373.3 249.4,407.9 250.8,407.7 C252.2,407.5 253.7,372.9 255.1,372.7 C256.5,372.5 257.6,405 259,406.5 C260.4,408 262.1,382.8 263.4,381.7 C264.7,380.6 266.4,396.7 267,399.7" fill="none" stroke="#1a1a1a" stroke-width="1.5" stroke-linejoin="round" stroke-dasharray="3.4 1.3" clip-path="url(#ik)"/>
<rect x="227.3" y="369.8" width="40" height="42.9" rx="1.2" fill="none" stroke="#1a1a1a" stroke-width="1.3"/>
<line x1="229.4" y1="412.7" x2="229.4" y2="415.2" stroke="#1a1a1a" stroke-width="1.2"/>
<line x1="264.8" y1="412.7" x2="264.8" y2="415.2" stroke="#1a1a1a" stroke-width="1.2"/>
<text x="229.4" y="425.9" text-anchor="middle" fill="#1a1a1a" font-size="14" font-weight="normal" font-style="normal">6</text>
<text x="264.8" y="425.9" text-anchor="middle" fill="#1a1a1a" font-size="14" font-weight="normal" font-style="normal">12</text>
<rect x="228.3" y="479.1" width="40" height="42.4" fill="#fff"/>
<defs><clipPath id="ix"><rect x="228.3" y="479.1" width="40" height="42.4"/></clipPath></defs>
<path d="M228.3,501.1 C228.6,503.2 229.4,514 230.2,513.9 C231,513.8 232.1,500.3 233.2,500.3 C234.3,500.3 235.9,514.1 237,513.9 C238.1,513.6 238.8,503.2 240,498.8 C241.2,494.4 243.2,487.6 244.5,487.4 C245.8,487.1 246.4,497.2 247.6,497.3 C248.8,497.4 250.3,489.5 251.4,488.2 C252.5,486.9 253.4,488.1 254.4,489.7 C255.4,491.3 256.5,497.2 257.4,498 C258.3,498.8 258.8,493.8 259.7,494.2 C260.6,494.6 261.7,498.3 262.7,500.3 C263.7,502.3 264.9,504.6 265.8,506.4 C266.7,508.2 267.6,510.1 268,510.9" fill="none" stroke="#c8262c" stroke-width="1.45" stroke-linejoin="round" clip-path="url(#ix)"/>
<path d="M228.6,515.5 C229.1,514.5 230.6,511.8 231.4,509.4 C232.2,507 232.6,500.4 233.5,501.1 C234.4,501.9 236.1,513.9 237,513.9 C237.9,513.9 238.3,506.5 239.2,501.1 C240.1,495.7 241.4,483 242.3,481.4 C243.2,479.8 243.7,487.5 244.5,491.2 C245.3,494.9 245.9,503.8 247.1,503.3 C248.2,502.8 250.2,488.9 251.4,488.2 C252.6,487.4 253.4,495.3 254.4,498.8 C255.4,502.3 256.2,508.1 257.1,509.1 C258,510.1 258.6,504.5 259.7,504.8 C260.8,505.1 262.2,508.5 263.5,510.9 C264.8,513.3 266.7,517.8 267.3,519.2" fill="none" stroke="#1a1a1a" stroke-width="1.5" stroke-linejoin="round" stroke-dasharray="3.4 1.3" clip-path="url(#ix)"/>
<rect x="228.3" y="479.1" width="40" height="42.4" rx="1.2" fill="none" stroke="#1a1a1a" stroke-width="1.3"/>
<line x1="235" y1="521.5" x2="235" y2="524" stroke="#1a1a1a" stroke-width="1.2"/>
<line x1="261.2" y1="521.5" x2="261.2" y2="524" stroke="#1a1a1a" stroke-width="1.2"/>
<text x="235" y="534.7" text-anchor="middle" fill="#1a1a1a" font-size="14" font-weight="normal" font-style="normal">4</text>
<text x="261.2" y="534.7" text-anchor="middle" fill="#1a1a1a" font-size="14" font-weight="normal" font-style="normal">8</text>
<text x="0" y="0" font-size="14" fill="#c8262c" text-anchor="middle" transform="translate(37.7,70.5) rotate(-90)">Intensity (a.u.)</text>
<text x="0" y="0" font-size="14" fill="#1a1a1a" text-anchor="middle" transform="translate(313.6,66) rotate(-90)">DCS (Å<tspan font-size="9" dy="-5">2</tspan><tspan dy="5">)</tspan></text>
<text x="167" y="127" font-size="14" fill="#1a1a1a" text-anchor="middle"><tspan font-style="italic">θ</tspan> (degrees)</text>
<line x1="67.2" y1="17.6" x2="67.2" y2="32.4" stroke="#262684" stroke-width="1.6"/>
<path d="M64.6,30.2 L67.2,31.6 L69.8,30.2 L67.2,35.4 Z" fill="#262684"/>
<line x1="112.7" y1="17.6" x2="112.7" y2="32.4" stroke="#47a047" stroke-width="1.6"/>
<path d="M110.1,30.2 L112.7,31.6 L115.3,30.2 L112.7,35.4 Z" fill="#47a047"/>
<line x1="138.9" y1="17.6" x2="138.9" y2="32.4" stroke="#7b237f" stroke-width="1.6"/>
<path d="M136.3,30.2 L138.9,31.6 L141.5,30.2 L138.9,35.4 Z" fill="#7b237f"/>
<line x1="352.8" y1="17.6" x2="352.8" y2="32.4" stroke="#262684" stroke-width="1.6"/>
<path d="M350.2,30.2 L352.8,31.6 L355.4,30.2 L352.8,35.4 Z" fill="#262684"/>
<line x1="398.4" y1="17.6" x2="398.4" y2="32.4" stroke="#47a047" stroke-width="1.6"/>
<path d="M395.8,30.2 L398.4,31.6 L401,30.2 L398.4,35.4 Z" fill="#47a047"/>
<line x1="421" y1="17.6" x2="421" y2="32.4" stroke="#7b237f" stroke-width="1.6"/>
<path d="M418.4,30.2 L421,31.6 L423.6,30.2 L421,35.4 Z" fill="#7b237f"/>
<line x1="90.1" y1="129.2" x2="90.1" y2="144.1" stroke="#262684" stroke-width="1.6"/>
<path d="M87.5,141.9 L90.1,143.2 L92.7,141.9 L90.1,147.1 Z" fill="#262684"/>
<line x1="101.7" y1="129.2" x2="101.7" y2="144.1" stroke="#47a047" stroke-width="1.6"/>
<path d="M99.1,141.9 L101.7,143.2 L104.3,141.9 L101.7,147.1 Z" fill="#47a047"/>
<line x1="123.9" y1="129.2" x2="123.9" y2="144.1" stroke="#7b237f" stroke-width="1.6"/>
<path d="M121.3,141.9 L123.9,143.2 L126.5,141.9 L123.9,147.1 Z" fill="#7b237f"/>
<line x1="380.1" y1="129.2" x2="380.1" y2="144.1" stroke="#262684" stroke-width="1.6"/>
<path d="M377.5,141.9 L380.1,143.2 L382.7,141.9 L380.1,147.1 Z" fill="#262684"/>
<line x1="414.2" y1="129.2" x2="414.2" y2="144.1" stroke="#47a047" stroke-width="1.6"/>
<path d="M411.6,141.9 L414.2,143.2 L416.8,141.9 L414.2,147.1 Z" fill="#47a047"/>
<line x1="442.5" y1="129.2" x2="442.5" y2="144.1" stroke="#7b237f" stroke-width="1.6"/>
<path d="M439.9,141.9 L442.5,143.2 L445.1,141.9 L442.5,147.1 Z" fill="#7b237f"/>
<line x1="95.6" y1="238.9" x2="95.6" y2="253.7" stroke="#47a047" stroke-width="1.6"/>
<path d="M93,251.5 L95.6,252.9 L98.2,251.5 L95.6,256.7 Z" fill="#47a047"/>
<line x1="112.7" y1="238.9" x2="112.7" y2="253.7" stroke="#7b237f" stroke-width="1.6"/>
<path d="M110.1,251.5 L112.7,252.9 L115.3,251.5 L112.7,256.7 Z" fill="#7b237f"/>
<line x1="135.3" y1="238.9" x2="135.3" y2="253.7" stroke="#262684" stroke-width="1.6"/>
<path d="M132.7,251.5 L135.3,252.9 L137.9,251.5 L135.3,256.7 Z" fill="#262684"/>
<line x1="408.6" y1="238.9" x2="408.6" y2="253.7" stroke="#47a047" stroke-width="1.6"/>
<path d="M406,251.5 L408.6,252.9 L411.2,251.5 L408.6,256.7 Z" fill="#47a047"/>
<line x1="425.5" y1="238.9" x2="425.5" y2="253.7" stroke="#262684" stroke-width="1.6"/>
<path d="M422.9,251.5 L425.5,252.9 L428.1,251.5 L425.5,256.7 Z" fill="#262684"/>
<line x1="431.4" y1="238.9" x2="431.4" y2="253.7" stroke="#7b237f" stroke-width="1.6"/>
<path d="M428.8,251.5 L431.4,252.9 L434,251.5 L431.4,256.7 Z" fill="#7b237f"/>
<line x1="95.6" y1="348.6" x2="95.6" y2="363.4" stroke="#47a047" stroke-width="1.6"/>
<path d="M93,361.2 L95.6,362.6 L98.2,361.2 L95.6,366.4 Z" fill="#47a047"/>
<line x1="112.7" y1="348.6" x2="112.7" y2="363.4" stroke="#7b237f" stroke-width="1.6"/>
<path d="M110.1,361.2 L112.7,362.6 L115.3,361.2 L112.7,366.4 Z" fill="#7b237f"/>
<line x1="180.9" y1="348.6" x2="180.9" y2="363.4" stroke="#262684" stroke-width="1.6"/>
<path d="M178.3,361.2 L180.9,362.6 L183.5,361.2 L180.9,366.4 Z" fill="#262684"/>
<line x1="408.6" y1="348.6" x2="408.6" y2="363.4" stroke="#47a047" stroke-width="1.6"/>
<path d="M406,361.2 L408.6,362.6 L411.2,361.2 L408.6,366.4 Z" fill="#47a047"/>
<line x1="437.2" y1="348.6" x2="437.2" y2="363.4" stroke="#7b237f" stroke-width="1.6"/>
<path d="M434.6,361.2 L437.2,362.6 L439.8,361.2 L437.2,366.4 Z" fill="#7b237f"/>
<line x1="476.8" y1="348.6" x2="476.8" y2="363.4" stroke="#262684" stroke-width="1.6"/>
<path d="M474.2,361.2 L476.8,362.6 L479.4,361.2 L476.8,366.4 Z" fill="#262684"/>
<line x1="95.6" y1="458.1" x2="95.6" y2="472.9" stroke="#47a047" stroke-width="1.6"/>
<path d="M93,470.7 L95.6,472.1 L98.2,470.7 L95.6,475.9 Z" fill="#47a047"/>
<line x1="112.7" y1="458.1" x2="112.7" y2="472.9" stroke="#7b237f" stroke-width="1.6"/>
<path d="M110.1,470.7 L112.7,472.1 L115.3,470.7 L112.7,475.9 Z" fill="#7b237f"/>
<line x1="203.7" y1="458.1" x2="203.7" y2="472.9" stroke="#262684" stroke-width="1.6"/>
<path d="M201.1,470.7 L203.7,472.1 L206.3,470.7 L203.7,475.9 Z" fill="#262684"/>
<line x1="408.6" y1="458.1" x2="408.6" y2="472.9" stroke="#47a047" stroke-width="1.6"/>
<path d="M406,470.7 L408.6,472.1 L411.2,470.7 L408.6,475.9 Z" fill="#47a047"/>
<line x1="431.4" y1="458.1" x2="431.4" y2="472.9" stroke="#7b237f" stroke-width="1.6"/>
<path d="M428.8,470.7 L431.4,472.1 L434,470.7 L431.4,475.9 Z" fill="#7b237f"/>
<line x1="499.8" y1="458.1" x2="499.8" y2="472.9" stroke="#262684" stroke-width="1.6"/>
<path d="M497.2,470.7 L499.8,472.1 L502.4,470.7 L499.8,475.9 Z" fill="#262684"/>
</svg>
</body></html>
